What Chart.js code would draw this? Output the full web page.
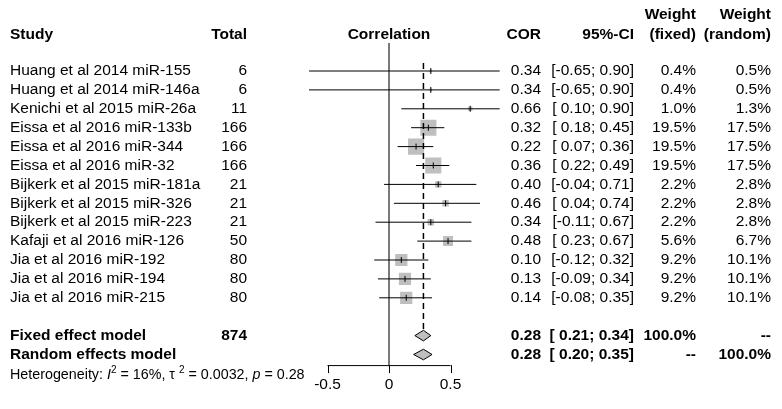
<!DOCTYPE html>
<html>
<head>
<meta charset="utf-8">
<script src="https://cdn.jsdelivr.net/npm/chart.js@4"></script>
<style>
  body { margin: 0; background: #fff; }
</style>
</head>
<body>
<canvas id="forest" width="782" height="409"></canvas>
<script>
const studies = [
  'Huang et al 2014 miR-155',
  'Huang et al 2014 miR-146a',
  'Kenichi et al 2015 miR-26a',
  'Eissa et al 2016 miR-133b',
  'Eissa et al 2016 miR-344',
  'Eissa et al 2016 miR-32',
  'Bijkerk et al 2015 miR-181a',
  'Bijkerk et al 2015 miR-326',
  'Bijkerk et al 2015 miR-223',
  'Kafaji et al 2016 miR-126',
  'Jia et al 2016 miR-192',
  'Jia et al 2016 miR-194',
  'Jia et al 2016 miR-215'
];
const totals = [6, 6, 11, 166, 166, 166, 21, 21, 21, 50, 80, 80, 80];
const cor = [0.34, 0.34, 0.66, 0.32, 0.22, 0.36, 0.40, 0.46, 0.34, 0.48, 0.10, 0.13, 0.14];
const ciLow = [-0.65, -0.65, 0.10, 0.18, 0.07, 0.22, -0.04, 0.04, -0.11, 0.23, -0.12, -0.09, -0.08];
const ciHigh = [0.90, 0.90, 0.90, 0.45, 0.36, 0.49, 0.71, 0.74, 0.67, 0.67, 0.32, 0.34, 0.35];
const weightFixed = [0.4, 0.4, 1.0, 19.5, 19.5, 19.5, 2.2, 2.2, 2.2, 5.6, 9.2, 9.2, 9.2];
const weightRandom = [0.5, 0.5, 1.3, 17.5, 17.5, 17.5, 2.8, 2.8, 2.8, 6.7, 10.1, 10.1, 10.1];

const summaryLabels = ['Fixed effect model', 'Random effects model'];
const summaryCor = [0.28, 0.28];
const summaryLow = [0.21, 0.20];
const summaryHigh = [0.34, 0.35];
const summaryWeightFixed = ['100.0%', '--'];
const summaryWeightRandom = ['--', '100.0%'];
const summaryTotal = 874;

const xTicks = [-0.5, 0, 0.5];

// rows: 0..12 studies, 13 blank, 14/15 summaries
const summaryRows = [studies.length + 1, studies.length + 2];
const axisRow = 15.56;
const diamondHalf = 0.28;

const FONT = '"Liberation Sans", Arial, Helvetica, sans-serif';
const GRAY = '#bfbfbf';

const fmt = v => (v < 0 ? '' : ' ') + v.toFixed(2);
const ciText = (lo, hi) => '[' + fmt(lo) + '; ' + hi.toFixed(2) + ']';

const ciSets = studies.map((s, i) => ({
  type: 'line',
  data: [{ x: ciLow[i], y: i }, { x: ciHigh[i], y: i }],
  borderColor: '#000',
  borderWidth: 1,
  pointRadius: 0,
  order: 1
}));

const diamondSets = summaryRows.map((r, k) => ({
  type: 'line',
  data: [
    { x: summaryLow[k], y: r },
    { x: summaryCor[k], y: r - diamondHalf },
    { x: summaryHigh[k], y: r },
    { x: summaryCor[k], y: r + diamondHalf },
    { x: summaryLow[k], y: r }
  ],
  borderColor: '#000',
  borderWidth: 1,
  backgroundColor: GRAY,
  fill: 'shape',
  pointRadius: 0,
  order: 1
}));

const tablePlugin = {
  id: 'forestTable',
  afterDraw(chart) {
    const { ctx } = chart;
    const x = chart.scales.x;
    const y = chart.scales.y;
    const rowY = r => y.getPixelForValue(r);

    const colStudy = 10, colTotal = 247;
    const colCor = 541, colCi = 634, colWf = 696, colWr = 771;

    ctx.save();
    ctx.fillStyle = '#000';
    ctx.textBaseline = 'middle';

    // header
    ctx.font = 'bold 15.5px ' + FONT;
    const hY = rowY(-1.9);
    ctx.textAlign = 'left';
    ctx.fillText('Study', colStudy, hY);
    ctx.textAlign = 'right';
    ctx.fillText('Total', colTotal, hY);
    ctx.fillText('COR', colCor, hY);
    ctx.fillText('95%-CI', colCi, hY);
    ctx.fillText('Weight', colWf, rowY(-2.96));
    ctx.fillText('Weight', colWr, rowY(-2.96));
    ctx.fillText('(fixed)', colWf, hY);
    ctx.fillText('(random)', colWr, hY);
    ctx.textAlign = 'center';
    ctx.fillText('Correlation', x.getPixelForValue(0), hY);

    // study rows
    ctx.font = '15.5px ' + FONT;
    studies.forEach((s, i) => {
      const py = rowY(i);
      ctx.textAlign = 'left';
      ctx.fillText(s, colStudy, py);
      ctx.textAlign = 'right';
      ctx.fillText(String(totals[i]), colTotal, py);
      ctx.fillText(cor[i].toFixed(2), colCor, py);
      ctx.fillText(ciText(ciLow[i], ciHigh[i]), colCi, py);
      ctx.fillText(weightFixed[i].toFixed(1) + '%', colWf, py);
      ctx.fillText(weightRandom[i].toFixed(1) + '%', colWr, py);
    });

    // summary rows
    ctx.font = 'bold 15.5px ' + FONT;
    summaryRows.forEach((r, k) => {
      const py = rowY(r);
      ctx.textAlign = 'left';
      ctx.fillText(summaryLabels[k], colStudy, py);
      ctx.textAlign = 'right';
      if (k === 0) ctx.fillText(String(summaryTotal), colTotal, py);
      ctx.fillText(summaryCor[k].toFixed(2), colCor, py);
      ctx.fillText(ciText(summaryLow[k], summaryHigh[k]), colCi, py);
      ctx.fillText(summaryWeightFixed[k], colWf, py);
      ctx.fillText(summaryWeightRandom[k], colWr, py);
    });

    // heterogeneity line
    const parts = [
      ['Heterogeneity: ', ''], ['I', 'italic'], ['2', 'sup'], [' = 16%, ', ''],
      ['\u03c4', ''], [' ', ''], ['2', 'sup'], [' = 0.0032, ', ''], ['p', 'italic'], [' = 0.28', '']
    ];
    let hx = 10;
    const het = rowY(16.08);
    ctx.textAlign = 'left';
    parts.forEach(([t, st]) => {
      let dy = 0;
      if (st === 'italic') ctx.font = 'italic 14.3px ' + FONT;
      else if (st === 'sup') { ctx.font = '10px ' + FONT; dy = -5; }
      else ctx.font = '14.3px ' + FONT;
      ctx.fillText(t, hx, het + dy);
      hx += ctx.measureText(t).width;
    });

    // x axis (bracket style)
    const ay = rowY(axisRow);
    const x0 = x.getPixelForValue(xTicks[0]);
    const x1 = x.getPixelForValue(xTicks[xTicks.length - 1]);
    ctx.strokeStyle = '#000';
    ctx.lineWidth = 1;
    ctx.beginPath();
    ctx.moveTo(x0, ay + 0.5);
    ctx.lineTo(x1, ay + 0.5);
    xTicks.forEach(t => {
      const tx = Math.round(x.getPixelForValue(t)) + 0.5;
      ctx.moveTo(tx, ay);
      ctx.lineTo(tx, ay + 8);
    });
    ctx.stroke();
    ctx.font = '15.5px ' + FONT;
    ctx.textAlign = 'center';
    xTicks.forEach(t => {
      ctx.fillText(String(t), x.getPixelForValue(t), ay + 20);
    });
    ctx.restore();
  }
};

new Chart(document.getElementById('forest'), {
  type: 'scatter',
  data: {
    datasets: [
      // estimate ticks
      {
        type: 'scatter',
        data: cor.map((c, i) => ({ x: c, y: i })),
        pointStyle: 'line',
        rotation: 90,
        pointRadius: 3,
        borderColor: '#000',
        borderWidth: 1,
        order: 0
      },
      ...ciSets,
      ...diamondSets,
      // pooled estimate, dashed
      {
        type: 'line',
        data: [{ x: summaryCor[0], y: -0.42 }, { x: summaryCor[0], y: summaryRows[0] - diamondHalf }],
        borderColor: '#000',
        borderWidth: 1.5,
        borderDash: [6, 4],
        pointRadius: 0,
        order: 2
      },
      // weight squares
      {
        type: 'scatter',
        data: cor.map((c, i) => ({ x: c, y: i })),
        pointStyle: 'rect',
        pointRadius: ctx => 2.72 * Math.sqrt(weightRandom[ctx.dataIndex]),
        backgroundColor: GRAY,
        borderWidth: 0,
        order: 3
      },
      // line of no effect
      {
        type: 'line',
        data: [{ x: 0, y: -1.48 }, { x: 0, y: axisRow }],
        borderColor: '#666',
        borderWidth: 1,
        pointRadius: 0,
        order: 4
      }
    ]
  },
  options: {
    responsive: false,
    animation: false,
    devicePixelRatio: 1,
    events: [],
    layout: {
      padding: { left: 302.9, right: 270, top: 33.2, bottom: 16.7 }
    },
    scales: {
      x: { type: 'linear', min: -0.7, max: 1.0, display: false },
      y: { type: 'linear', min: -2, max: 17, reverse: true, display: false }
    },
    plugins: {
      legend: { display: false },
      tooltip: { enabled: false }
    }
  },
  plugins: [tablePlugin]
});
</script>
</body>
</html>
